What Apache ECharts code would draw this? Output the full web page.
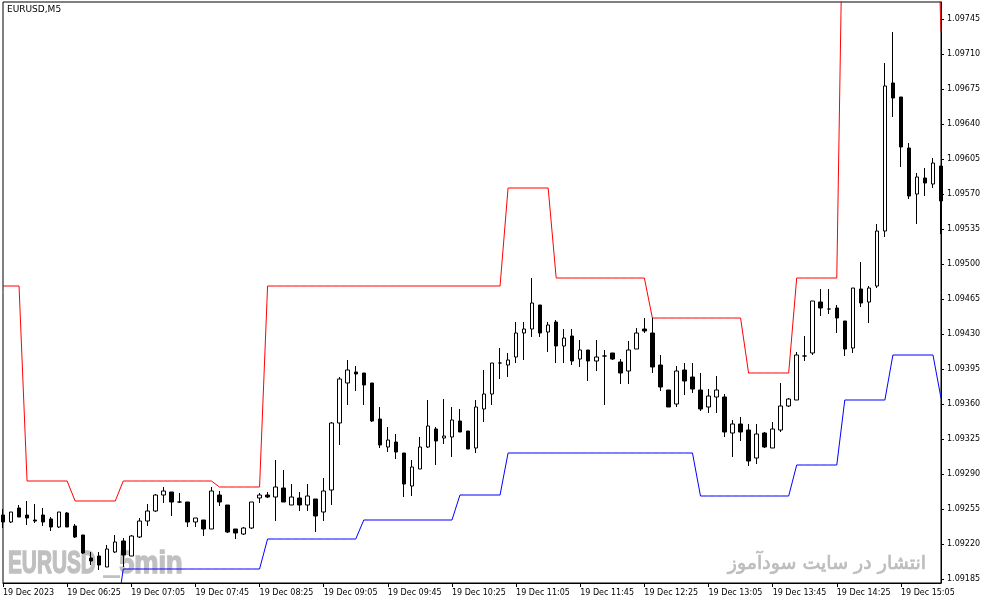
<!DOCTYPE html>
<html><head><meta charset="utf-8">
<script src="https://cdn.jsdelivr.net/npm/echarts@6/dist/echarts.min.js"></script>
<style>html,body{margin:0;padding:0;background:#fff}#c{width:987px;height:605px}</style>
</head><body><div id="c"></div>
<script>
const chartTitle = 'EURUSD,M5';
const dayLabel = '19 Dec';
const firstTime = [5, 45];
const stepMinutes = 5;
const tickEvery = 8;
const tickLabels = ['19 Dec 2023','19 Dec 06:25','19 Dec 07:05','19 Dec 07:45','19 Dec 08:25','19 Dec 09:05','19 Dec 09:45','19 Dec 10:25','19 Dec 11:05','19 Dec 11:45','19 Dec 12:25','19 Dec 13:05','19 Dec 13:45','19 Dec 14:25','19 Dec 15:05'];
const priceTicks = [1.09185,1.09220,1.09255,1.09290,1.09325,1.09360,1.09395,1.09430,1.09465,1.09500,1.09535,1.09570,1.09605,1.09640,1.09675,1.09710,1.09745];
const opens = [1.09249,1.09242,1.09256,1.09249,1.09244,1.09249,1.09245,1.09237,1.09251,1.09238,
1.09229,1.09206,1.09208,1.09197,1.09212,1.09223,1.09208,1.09227,1.09243,1.09253,
1.09269,1.09272,1.09262,1.09262,1.09242,1.09244,1.09235,1.09269,1.09259,1.09235,
1.09230,1.09236,1.09266,1.09269,1.09267,1.09276,1.09259,1.09266,1.09259,1.09265,
1.09252,1.09274,1.09341,1.09381,1.09392,1.09391,1.09381,1.09345,1.09317,1.09322,
1.09311,1.09278,1.09295,1.09317,1.09335,1.09326,1.09327,1.09343,1.09333,1.09316,
1.09355,1.09370,1.09401,1.09399,1.09407,1.09431,1.09435,1.09459,1.09432,1.09442,
1.09418,1.09428,1.09405,1.09414,1.09403,1.09408,1.09411,1.09402,1.09393,1.09415,
1.09435,1.09431,1.09399,1.09374,1.09360,1.09394,1.09387,1.09374,1.09357,1.09367,
1.09367,1.09331,1.09340,1.09334,1.09306,1.09331,1.09316,1.09334,1.09358,1.09364,
1.09408,1.09411,1.09462,1.09455,1.09456,1.09443,1.09416,1.09475,1.09462,1.09478,
1.09533,1.09681,1.09667,1.09616,1.09570,1.09586,1.09580,1.09598];
const highs = [1.09255,1.09252,1.09259,1.09263,1.09260,1.09256,1.09247,1.09252,1.09252,1.09240,
1.09229,1.09212,1.09212,1.09219,1.09229,1.09226,1.09229,1.09246,1.09260,1.09270,
1.09277,1.09272,1.09271,1.09262,1.09246,1.09244,1.09277,1.09273,1.09259,1.09235,
1.09237,1.09262,1.09271,1.09272,1.09304,1.09294,1.09280,1.09272,1.09280,1.09265,
1.09286,1.09342,1.09387,1.09404,1.09398,1.09391,1.09381,1.09357,1.09337,1.09330,
1.09311,1.09304,1.09327,1.09364,1.09337,1.09365,1.09357,1.09355,1.09333,1.09364,
1.09394,1.09401,1.09416,1.09411,1.09442,1.09442,1.09486,1.09459,1.09442,1.09444,
1.09435,1.09435,1.09424,1.09414,1.09424,1.09414,1.09411,1.09405,1.09423,1.09436,
1.09446,1.09446,1.09409,1.09374,1.09398,1.09401,1.09401,1.09391,1.09375,1.09388,
1.09370,1.09344,1.09347,1.09340,1.09340,1.09332,1.09342,1.09381,1.09366,1.09412,
1.09428,1.09463,1.09475,1.09475,1.09459,1.09443,1.09476,1.09502,1.09478,1.09540,
1.09701,1.09732,1.09667,1.09621,1.09591,1.09596,1.09606,1.09598];
const lows = [1.09236,1.09241,1.09247,1.09239,1.09241,1.09238,1.09233,1.09236,1.09237,1.09226,
1.09210,1.09199,1.09194,1.09197,1.09211,1.09197,1.09208,1.09226,1.09238,1.09252,
1.09261,1.09248,1.09261,1.09237,1.09237,1.09228,1.09235,1.09258,1.09231,1.09225,
1.09229,1.09235,1.09261,1.09266,1.09243,1.09262,1.09259,1.09253,1.09253,1.09232,
1.09243,1.09259,1.09319,1.09359,1.09373,1.09359,1.09342,1.09316,1.09312,1.09305,
1.09267,1.09268,1.09295,1.09316,1.09299,1.09320,1.09307,1.09332,1.09315,1.09311,
1.09342,1.09359,1.09385,1.09387,1.09401,1.09404,1.09427,1.09427,1.09412,1.09401,
1.09401,1.09399,1.09397,1.09383,1.09393,1.09359,1.09404,1.09380,1.09380,1.09415,
1.09431,1.09391,1.09373,1.09357,1.09357,1.09369,1.09371,1.09353,1.09351,1.09351,
1.09327,1.09307,1.09323,1.09298,1.09300,1.09316,1.09316,1.09332,1.09357,1.09364,
1.09403,1.09409,1.09448,1.09450,1.09431,1.09408,1.09411,1.09457,1.09441,1.09476,
1.09527,1.09647,1.09597,1.09565,1.09540,1.09568,1.09576,1.09530];
const closes = [1.09242,1.09252,1.09247,1.09246,1.09243,1.09242,1.09237,1.09252,1.09237,1.09227,
1.09211,1.09203,1.09199,1.09215,1.09222,1.09209,1.09228,1.09243,1.09253,1.09269,
1.09273,1.09262,1.09262,1.09242,1.09246,1.09235,1.09273,1.09262,1.09232,1.09231,
1.09236,1.09262,1.09269,1.09267,1.09277,1.09262,1.09267,1.09259,1.09268,1.09248,
1.09273,1.09341,1.09385,1.09394,1.09390,1.09379,1.09343,1.09319,1.09324,1.09312,
1.09280,1.09297,1.09317,1.09338,1.09323,1.09328,1.09344,1.09332,1.09315,1.09357,
1.09370,1.09401,1.09401,1.09404,1.09431,1.09435,1.09461,1.09431,1.09439,1.09418,
1.09426,1.09403,1.09414,1.09403,1.09407,1.09408,1.09405,1.09391,1.09414,1.09431,
1.09433,1.09397,1.09377,1.09357,1.09393,1.09383,1.09375,1.09355,1.09368,1.09374,
1.09332,1.09340,1.09332,1.09303,1.09330,1.09317,1.09335,1.09358,1.09365,1.09409,
1.09408,1.09463,1.09456,1.09455,1.09446,1.09415,1.09476,1.09461,1.09476,1.09533,
1.09678,1.09666,1.09617,1.09568,1.09587,1.09581,1.09601,1.09563];
const upperBand = [1.09478,1.09478,1.09478,
1.09283,1.09283,1.09283,1.09283,1.09283,1.09283,
1.09263,1.09263,1.09263,1.09263,1.09263,1.09263,
1.09283,1.09283,1.09283,1.09283,1.09283,1.09283,1.09283,1.09283,1.09283,1.09283,1.09283,1.09283,
1.09277,1.09277,1.09277,1.09277,1.09277,1.09277,
1.09478,1.09478,1.09478,1.09478,1.09478,1.09478,1.09478,1.09478,1.09478,1.09478,
1.09478,1.09478,1.09478,1.09478,1.09478,1.09478,1.09478,1.09478,1.09478,1.09478,
1.09478,1.09478,1.09478,1.09478,1.09478,1.09478,1.09478,1.09478,1.09478,1.09478,
1.09576,1.09576,1.09576,1.09576,1.09576,1.09576,
1.09486,1.09486,1.09486,1.09486,1.09486,1.09486,1.09486,1.09486,1.09486,1.09486,1.09486,1.09486,
1.09446,1.09446,1.09446,1.09446,1.09446,1.09446,1.09446,1.09446,1.09446,1.09446,1.09446,1.09446,
1.09391,1.09391,1.09391,1.09391,1.09391,1.09391,
1.09486,1.09486,1.09486,1.09486,1.09486,1.09486,
1.09990,1.09990,1.09990,1.09990,1.09990,1.09990,1.09990,1.09990,1.09990,1.09990,1.09990,1.09990,
1.09732];
const lowerBand = [1.09140,1.09140,1.09140,1.09140,1.09140,1.09140,1.09140,1.09140,1.09140,1.09140,1.09140,1.09140,1.09140,1.09140,1.09140,
1.09195,1.09195,1.09195,1.09195,1.09195,1.09195,1.09195,1.09195,1.09195,1.09195,1.09195,1.09195,1.09195,1.09195,1.09195,1.09195,1.09195,1.09195,
1.09225,1.09225,1.09225,1.09225,1.09225,1.09225,1.09225,1.09225,1.09225,1.09225,1.09225,1.09225,
1.09244,1.09244,1.09244,1.09244,1.09244,1.09244,1.09244,1.09244,1.09244,1.09244,1.09244,1.09244,
1.09269,1.09269,1.09269,1.09269,1.09269,1.09269,
1.09311,1.09311,1.09311,1.09311,1.09311,1.09311,1.09311,1.09311,1.09311,1.09311,1.09311,1.09311,
1.09311,1.09311,1.09311,1.09311,1.09311,1.09311,1.09311,1.09311,1.09311,1.09311,1.09311,1.09311,
1.09268,1.09268,1.09268,1.09268,1.09268,1.09268,1.09268,1.09268,1.09268,1.09268,1.09268,1.09268,
1.09299,1.09299,1.09299,1.09299,1.09299,1.09299,
1.09364,1.09364,1.09364,1.09364,1.09364,1.09364,
1.09409,1.09409,1.09409,1.09409,1.09409,1.09409,
1.09366];
const watermarkLeft = ['EURUSD', '_5min'];
const watermarkRight = 'انتشار در سایت سودآموز';

const pad = n => (n < 10 ? '0' : '') + n;
const categories = opens.map((_, i) => {
  const m = firstTime[0] * 60 + firstTime[1] + i * stepMinutes;
  return dayLabel + ' ' + pad(Math.floor(m / 60)) + ':' + pad(m % 60);
});
const ohlc = opens.map((o, i) => [o, closes[i], lows[i], highs[i]]);

const chart = echarts.init(document.getElementById('c'), null, {renderer: 'canvas'});
const axisFont = {fontFamily: 'DejaVu Sans', fontSize: 8, color: '#000'};
chart.setOption({
  animation: false,
  backgroundColor: '#fff',
  grid: {left: 2, top: 2, right: 46, bottom: 22, show: true, borderColor: '#000', borderWidth: 1, backgroundColor: 'transparent'},
  xAxis: {
    type: 'category', data: categories, boundaryGap: false,
    axisLine: {show: true, lineStyle: {color: '#000', width: 1}},
    axisTick: {show: true, length: 4, interval: i => i % tickEvery === 0, lineStyle: {color: '#000'}},
    axisLabel: Object.assign({interval: i => i % tickEvery === 0, align: 'left', margin: 6,
      formatter: (v, i) => (i % tickEvery === 0 ? tickLabels[i / tickEvery] : '')}, axisFont),
    splitLine: {show: false}
  },
  yAxis: {
    type: 'value', position: 'right', min: 1.09181, max: 1.09762, scale: true,
    axisLine: {show: true, lineStyle: {color: '#000', width: 1}},
    axisTick: {show: true, length: 3, customValues: priceTicks, lineStyle: {color: '#000'}},
    axisLabel: Object.assign({customValues: priceTicks, margin: 6, align: 'left',
      formatter: v => v.toFixed(5)}, axisFont),
    splitLine: {show: false}
  },
  graphic: [
    {type: 'text', left: 7, top: 5, z: 10, style: {text: chartTitle, fontFamily: 'DejaVu Sans', fontSize: 9, fill: '#000'}},
    {type: 'text', x: 8, y: 548, scaleX: 0.65, z: -1, style: {text: watermarkLeft[0], fontFamily: 'Liberation Sans', fontWeight: 'bold', fontSize: 32, fill: '#c0c0c0', stroke: '#c0c0c0', lineWidth: 1.5}},
    {type: 'text', x: 104, y: 548, scaleX: 0.85, z: -1, style: {text: watermarkLeft[1], fontFamily: 'Liberation Sans', fontWeight: 'bold', fontSize: 32, fill: '#c0c0c0', stroke: '#c0c0c0', lineWidth: 1.5}},
    {type: 'text', x: 926, y: 564, z: -1, style: {text: watermarkRight, fontFamily: 'DejaVu Sans', fontSize: 19, fill: '#bdbdbd', stroke: '#bdbdbd', lineWidth: 0.7, align: 'right', verticalAlign: 'middle'}}
  ],
  series: [
    {type: 'line', data: upperBand, symbol: 'none', clip: true, lineStyle: {color: '#ff0000', width: 1}, silent: true, z: 3},
    {type: 'line', data: lowerBand, symbol: 'none', clip: true, lineStyle: {color: '#0000ff', width: 1}, silent: true, z: 3},
    {type: 'candlestick', data: ohlc, barWidth: 4, clip: true, z: 4,
     itemStyle: {color: '#ffffff', color0: '#000000', borderColor: '#000000', borderColor0: '#000000', borderWidth: 1}}
  ]
});
</script></body></html>
